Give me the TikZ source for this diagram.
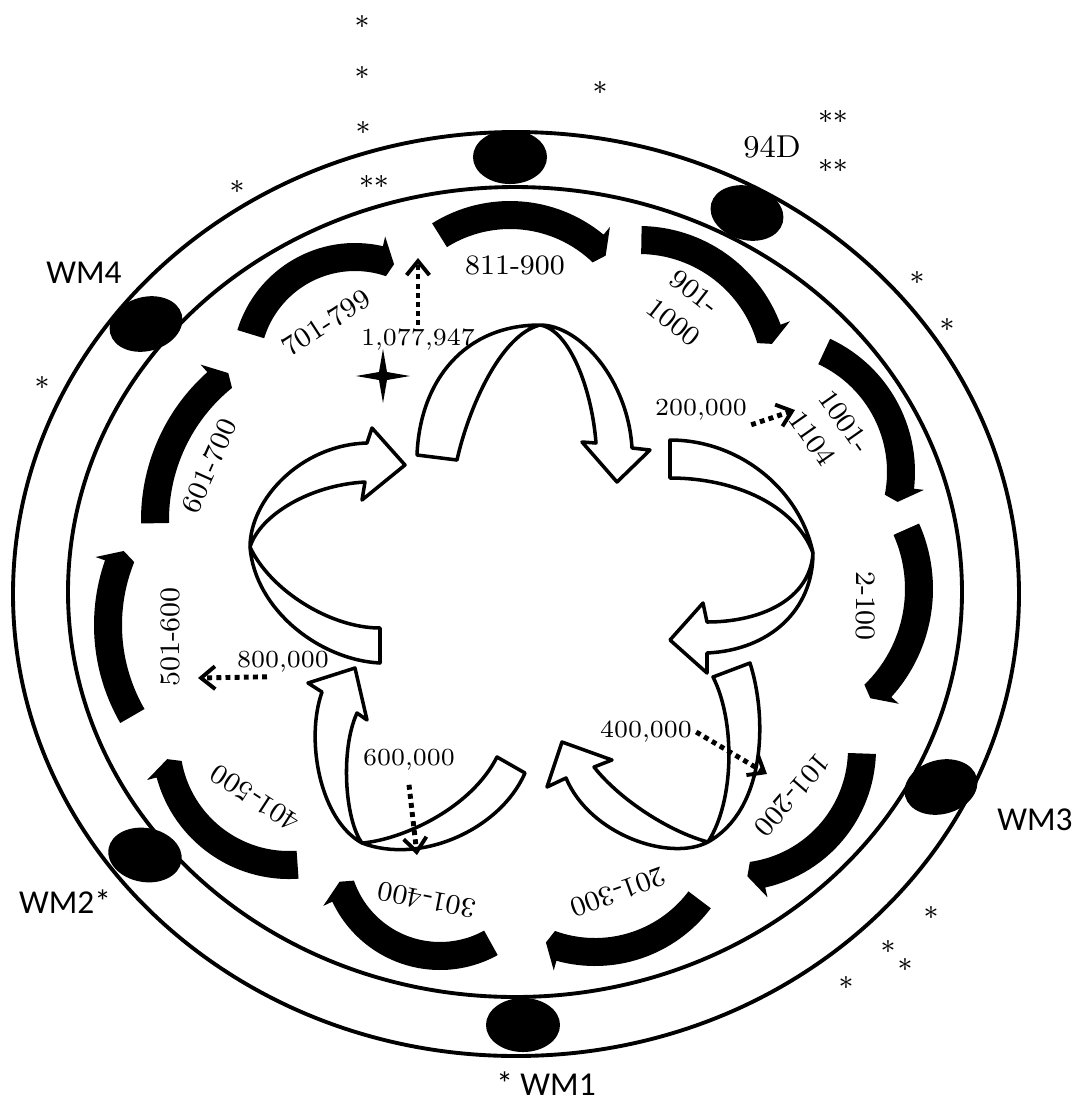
\documentclass[tikz,border=0pt]{standalone}
\usepackage{fontspec}
\newfontfamily\wmfont{Carlito}
\usetikzlibrary{arrows.meta,shapes.geometric}
\tikzset{
  ring/.style={line width=1.1pt},
  blob/.style={ellipse,fill=black,inner sep=0pt,minimum width=0.74cm,minimum height=0.54cm},
  turn/.style={draw=black,fill=white,line width=1pt,line join=round},
  rng/.style={font=\fontsize{8}{10.5}\selectfont,inner sep=1pt,align=left},
  cnt/.style={font=\fontsize{7}{8}\selectfont,inner sep=1pt},
  site/.style={font=\wmfont\fontsize{9.5}{11}\selectfont,inner sep=0pt},
  ast/.style={font=\fontsize{8.5}{9}\selectfont,inner sep=0pt},
  dotarr/.style={line width=1.4pt,dash pattern=on 1.4pt off 1.2pt,-{Straight Barb[length=4pt,width=6.5pt,line width=1.1pt]}}
}
\newcommand{\blkarc}[5]{%
  \begin{scope}[shift={(#1,#2)}]
  \fill ({#4}:{#3-14}) arc[start angle=#4,end angle={#5-2},radius={#3-14}] -- ({#5}:{#3}) -- ({#5-860/#3}:{#3+24}) -- ({#5-860/#3}:{#3+14}) arc[start angle={#5-860/#3},end angle=#4,radius={#3+14}] -- cycle;
  \end{scope}}

\begin{document}
\begin{tikzpicture}[x=0.01cm,y=-0.01cm]
\useasboundingbox (0,0) rectangle (1077,1105);
\draw[ring] (516,594) ellipse[x radius=503,y radius=462];
\draw[ring] (515,592) ellipse[x radius=447,y radius=405];
\node[blob] (top) at (510,157) {};
\node[blob,rotate=-15] (d94) at (747,213) {};
\node[blob,rotate=15] (wm4) at (146,324) {};
\node[blob,rotate=15] (wm3) at (941,787) {};
\node[blob,rotate=-10] (wm2) at (145,855) {};
\node[blob] (wm1) at (523,1025) {};
\blkarc{510}{348}{133}{-122}{-44}
\blkarc{639}{377}{137}{-89}{-14}
\blkarc{768}{472}{133}{-65}{13}
\blkarc{772}{589}{147}{-24}{48}
\blkarc{734}{749}{128}{2}{84}
\blkarc{595}{821}{131}{37}{112}
\blkarc{440}{851}{105}{61}{163}
\blkarc{289}{742}{123}{86}{172}
\blkarc{290}{625}{182}{150}{204}
\blkarc{339}{520}{184}{179}{233}
\blkarc{355}{366}{109}{197}{291}
\draw[turn] (417,455) .. controls (420,380) and (465,325) .. (540,325) .. controls (580,325) and (628,380) .. (632,448) -- (650,450) -- (617,482) -- (582,442) -- (596,443) .. controls (592,390) and (570,330) .. (540,325) .. controls (500,335) and (468,410) .. (457,460) -- cycle;
\draw[turn] (670,440) .. controls (740,440) and (800,490) .. (813,553) .. controls (810,600) and (760,622) .. (707,622) -- (703,603) -- (670,640) -- (707,673) -- (707,653) .. controls (770,650) and (813,610) .. (813,553) .. controls (795,505) and (735,478) .. (670,478) -- cycle;
\draw[turn] (750,663) .. controls (768,720) and (765,810) .. (708,842) .. controls (670,862) and (590,835) .. (566,778) -- (547,787) -- (562,742) -- (612,760) -- (594,767) .. controls (620,800) and (670,832) .. (708,842) .. controls (735,800) and (735,720) .. (713,677) -- cycle;
\draw[turn] (525,773) .. controls (500,830) and (420,865) .. (362,843) .. controls (320,820) and (305,740) .. (322,692) -- (308,683) -- (355,668) -- (367,720) -- (357,713) .. controls (340,750) and (345,820) .. (362,843) .. controls (400,840) and (470,810) .. (497,757) -- cycle;
\draw[turn] (380,663) .. controls (320,660) and (255,610) .. (250,547) .. controls (250,500) and (300,445) .. (367,443) -- (372,428) -- (405,465) -- (362,500) -- (365,482) .. controls (310,485) and (260,515) .. (250,547) .. controls (270,590) and (330,628) .. (380,628) -- cycle;
\fill (383,349) -- (387,372) -- (410,376) -- (387,380) -- (383,403) -- (379,380) -- (356,376) -- (379,372) -- cycle;
\node[rng] (r811) at (515,265) {811-900};
\node[rng,rotate=-38] (r901) at (685,308) {901-\\1000};
\node[rng,rotate=-55] (r1001) at (830,432) {1001-\\1104};
\node[rng,rotate=-90] (r2) at (866,606) {2-100};
\node[rng,rotate=-131] (r101) at (792,795) {101-200};
\node[rng,rotate=-160] (r201) at (618,892) {201-300};
\node[rng,rotate=169] (r301) at (427,900) {301-400};
\node[rng,rotate=147] (r401) at (255,798) {401-500};
\node[rng,rotate=90] (r501) at (170,637) {501-600};
\node[rng,rotate=66] (r601) at (209,466) {601-700};
\node[rng,rotate=33] (r701) at (326,323) {701-799};
\node[cnt] (n1077) at (418,340) {1,077,947};
\node[cnt] (n200) at (701,410) {200,000};
\node[cnt] (n800) at (283,662) {800,000};
\node[cnt] (n600) at (409,760) {600,000};
\node[cnt] (n400) at (646,732) {400,000};
\coordinate (t1077) at (418,258);
\coordinate (t200) at (795,410);
\coordinate (t800) at (198,678);
\coordinate (t600) at (417,855);
\coordinate (t400) at (767,774);
\draw[dotarr] (n1077.north) -- (t1077);
\draw[dotarr] (n200.south east) -- (t200);
\draw[dotarr] ([xshift=-0.16cm]n800.south) -- (t800);
\draw[dotarr] ([yshift=-0.1cm]n600.south) -- (t600);
\draw[dotarr] (n400.east) -- (t400);
\node[site] (lwm4) at (84,273) {WM4};
\node[font=\fontsize{9}{11}\selectfont,inner sep=0pt] (l94d) at (772,147) {94D};
\node[site] (lwm3) at (1035,820) {WM3};
\node[site] (lwm2) at (65,902) {WM2*};
\node[site] (lwm1) at (546,1084) {* WM1};
\node[ast] (a1) at (362,22) {$\ast$};
\node[ast] (a2) at (362,73) {$\ast$};
\node[ast] (a3) at (363,128) {$\ast$};
\node[ast] (a4) at (374,182) {${\ast}{\ast}$};
\node[ast] (a5) at (237,187) {$\ast$};
\node[ast] (a6) at (600,88) {$\ast$};
\node[ast] (a7) at (833,117) {${\ast}{\ast}$};
\node[ast] (a8) at (833,166) {${\ast}{\ast}$};
\node[ast] (a9) at (917,278) {$\ast$};
\node[ast] (a10) at (947,325) {$\ast$};
\node[ast] (a11) at (42,383) {$\ast$};
\node[ast] (a12) at (931,913) {$\ast$};
\node[ast] (a13) at (888,947) {$\ast$};
\node[ast] (a14) at (905,965) {$\ast$};
\node[ast] (a15) at (846,983) {$\ast$};
\end{tikzpicture}
\end{document}
